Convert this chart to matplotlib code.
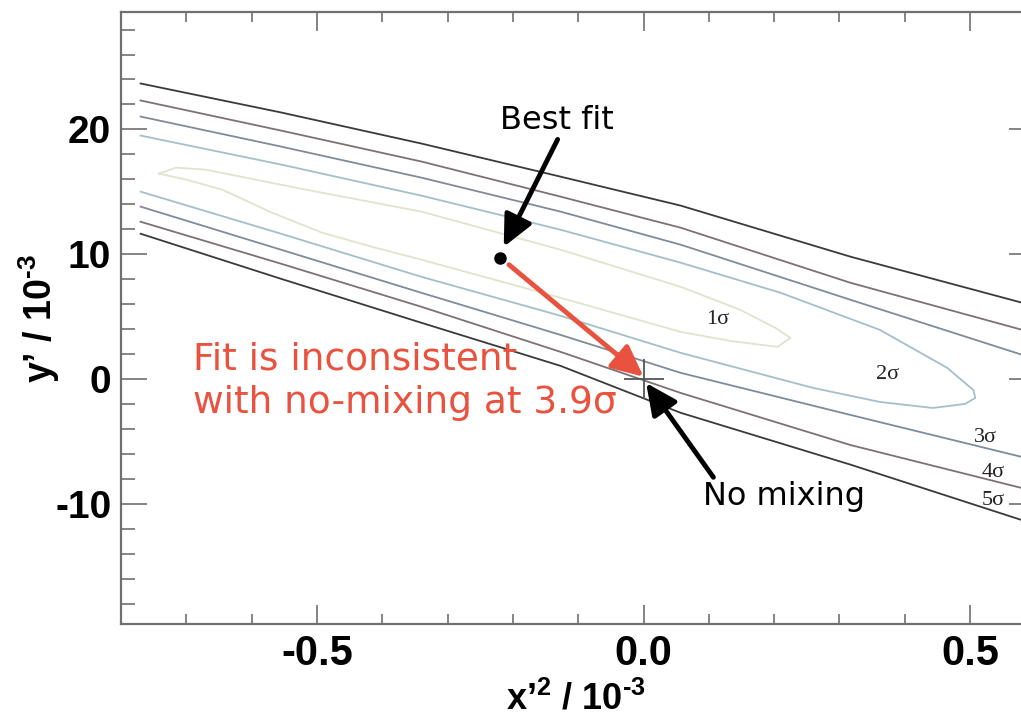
import matplotlib
matplotlib.use("Agg")
import matplotlib.pyplot as plt
from matplotlib.ticker import MultipleLocator, FormatStrFormatter

plt.rcParams['axes.unicode_minus'] = False
plt.rcParams['mathtext.fontset'] = 'custom'
plt.rcParams['mathtext.rm'] = 'Liberation Sans:bold'
plt.rcParams['mathtext.bf'] = 'Liberation Sans:bold'
plt.rcParams['mathtext.default'] = 'bf'

# contour branches (x'^2, y') in units of 1e-3
BRANCH_X = [-0.77, -0.555, -0.34, -0.127, 0.057, 0.317, 0.58]
S5_UPPER = [23.68, 21.36, 18.87, 16.22, 13.90, 9.81, 6.12]
S4_UPPER = [22.32, 19.91, 17.43, 14.62, 12.13, 7.72, 3.95]
S3_UPPER = [21.03, 18.63, 16.14, 13.42, 10.77, 6.36, 1.95]
S3_LOWER = [13.82, 10.37, 6.92, 3.55, 0.51, -2.86, -6.23]
S4_LOWER = [12.61, 9.25, 5.80, 2.19, -1.10, -5.27, -8.72]
S5_LOWER = [11.65, 8.04, 4.52, 1.07, -2.69, -6.84, -11.29]

# 2 sigma: open on the left, closed on the right
S2_X = [-0.77, -0.555, -0.34, -0.127, 0.057, 0.21, 0.362, 0.465, 0.505,
        0.508, 0.492, 0.443, 0.362, 0.26, 0.057, -0.127, -0.34, -0.555, -0.77]
S2_Y = [19.51, 17.19, 14.70, 11.97, 9.33, 6.92, 3.95, 0.91, -0.86,
        -1.50, -1.98, -2.30, -1.82, -0.70, 2.11, 5.08, 8.20, 11.65, 15.02]

# 1 sigma: closed
S1_X = [-0.742, -0.716, -0.67, -0.525, -0.34, -0.127, 0.057, 0.148, 0.202, 0.225,
        0.205, 0.133, 0.057, -0.127, -0.34, -0.416, -0.492, -0.569, -0.645, -0.70, -0.742]
S1_Y = [16.46, 16.94, 16.78, 15.26, 13.42, 10.37, 7.40, 5.56, 4.11, 3.31,
        2.59, 3.07, 3.79, 6.52, 9.57, 10.61, 11.73, 13.34, 15.18, 15.98, 16.46]

SIGMA_LABELS = ['1σ', '2σ', '3σ', '4σ', '5σ']
SIGMA_LABEL_X = [0.113, 0.373, 0.523, 0.535, 0.535]
SIGMA_LABEL_Y = [4.75, 0.34, -4.7, -7.5, -9.7]

BEST_FIT = (-0.219, 9.73)
NO_MIXING = (0.0, 0.0)

c1 = '#dfe4cc'
c2 = '#a3c0c8'
c3 = '#7f8c97'
c4 = '#7d7078'
c5 = '#3a3a3a'
red = '#e9523e'

fig = plt.figure(figsize=(10.21, 7.21), dpi=100)
ax = fig.add_axes([0.1185, 0.1345, 0.8956, 0.8488])

lw = 1.3
ax.plot(S1_X, S1_Y, color=c1, lw=lw)
ax.plot(S2_X, S2_Y, color=c2, lw=lw)
for ys, c in [(S3_UPPER, c3), (S3_LOWER, c3), (S4_UPPER, c4), (S4_LOWER, c4),
              (S5_UPPER, c5), (S5_LOWER, c5)]:
    ax.plot(BRANCH_X, ys, color=c, lw=lw)

for lab, lx, ly in zip(SIGMA_LABELS, SIGMA_LABEL_X, SIGMA_LABEL_Y):
    ax.text(lx, ly, lab, fontsize=16, family='Liberation Serif', color='#222222',
            ha='center', va='center')

# best fit and no-mixing point
ax.plot(*BEST_FIT, 'o', color='black', ms=8)
ax.plot(*NO_MIXING, '+', color='#555555', ms=29, mew=1.3)

# arrows
arrow_style = '-|>,head_length=0.95,head_width=0.45'
ax.annotate('', xy=(-0.214, 10.6), xytext=(-0.1315, 19.2),
            arrowprops=dict(arrowstyle=arrow_style, mutation_scale=20, lw=3.5,
                            color='black', shrinkA=0, shrinkB=0))
ax.annotate('', xy=(0.004, -0.3), xytext=(0.107, -7.85),
            arrowprops=dict(arrowstyle=arrow_style, mutation_scale=20, lw=3.5,
                            color='black', shrinkA=0, shrinkB=0))
ax.annotate('', xy=(0.0, 0.2), xytext=(-0.206, 9.17),
            arrowprops=dict(arrowstyle=arrow_style, mutation_scale=20, lw=3.5,
                            color=red, shrinkA=0, shrinkB=0))

ax.text(-0.133, 20.0, 'Best fit', fontsize=23, family='DejaVu Sans',
        ha='center', va='baseline')
ax.text(0.2156, -10.08, 'No mixing', fontsize=23, family='DejaVu Sans',
        ha='center', va='baseline')
ax.text(-0.6896, 0.75, 'Fit is inconsistent', fontsize=27, family='DejaVu Sans',
        color=red, ha='left', va='baseline')
ax.text(-0.6896, -2.72, 'with no-mixing at 3.9σ', fontsize=27, family='DejaVu Sans',
        color=red, ha='left', va='baseline')

# axes
ax.set_xlim(-0.8, 0.6)
ax.set_ylim(-19.6, 29.4)
ax.xaxis.set_major_locator(MultipleLocator(0.5))
ax.xaxis.set_minor_locator(MultipleLocator(0.1))
ax.xaxis.set_major_formatter(FormatStrFormatter('%.1f'))
ax.yaxis.set_major_locator(MultipleLocator(10))
ax.yaxis.set_minor_locator(MultipleLocator(2))

for s in ax.spines.values():
    s.set_color('#707070')
    s.set_linewidth(1.6)

ax.tick_params(which='both', direction='in', top=True, right=True,
               color='#707070', width=1.2)
ax.tick_params(axis='x', which='major', length=14, pad=7)
ax.tick_params(axis='x', which='minor', length=7)
ax.tick_params(axis='y', which='major', length=19, pad=7)
ax.tick_params(axis='y', which='minor', length=10)

for t in ax.get_xticklabels():
    t.set_fontfamily('Liberation Sans')
    t.set_fontweight('bold')
    t.set_fontsize(30)
for t in ax.get_yticklabels():
    t.set_fontfamily('Liberation Sans')
    t.set_fontweight('bold')
    t.set_fontsize(28)

# short hyphen in the exponents, as in the tick labels
ax.set_xlabel("x’$^{2}$ / 10$^{‐3}$", fontsize=26, fontweight='bold',
              family='Liberation Sans', va='bottom')
ax.set_ylabel("y’ / 10$^{‐3}$", fontsize=27, fontweight='bold',
              family='Liberation Sans')
ax.xaxis.set_label_coords(0.497, -0.153)
ax.yaxis.set_label_coords(-0.064, 0.5)

fig.savefig('out.png', dpi=100)
